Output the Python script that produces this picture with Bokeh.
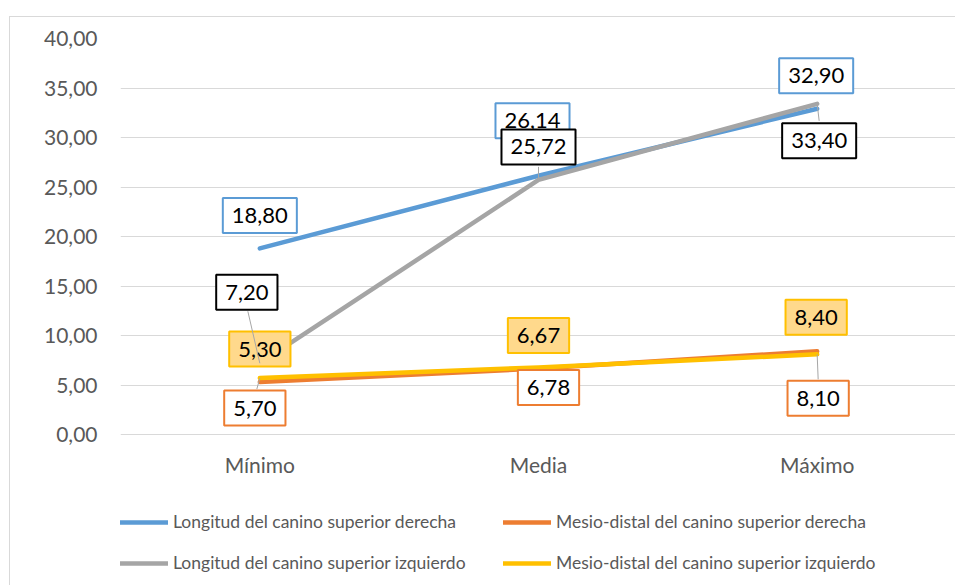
from bokeh.plotting import figure
from bokeh.models import FactorRange, Range1d, FixedTicker, Legend, LegendItem
from bokeh.core.properties import value
from bokeh.embed import file_html
from bokeh.resources import INLINE

# ---------------- data ----------------
categories = ["Mínimo", "Media", "Máximo"]
longitud_derecha = [18.80, 26.14, 32.90]
mesio_derecha = [5.30, 6.67, 8.40]
longitud_izquierdo = [7.20, 25.72, 33.40]
mesio_izquierdo = [5.70, 6.78, 8.10]
series_names = [
    "Longitud del canino superior derecha",
    "Mesio-distal del canino superior derecha",
    "Longitud del canino superior izquierdo",
    "Mesio-distal del canino superior izquierdo",
]
y_ticks = [0, 5, 10, 15, 20, 25, 30, 35, 40]
y_tick_labels = ["0,00", "5,00", "10,00", "15,00", "20,00", "25,00", "30,00", "35,00", "40,00"]


def fmt(v):
    return f"{v:.2f}".replace(".", ",")


# ---------------- styles ----------------
BLUE, ORANGE, GRAY, YELLOW = "#5B9BD5", "#ED7D31", "#A5A5A5", "#FFC000"
FONT = value("Lato")
FRAME_W = 836
PX_X = FRAME_W / len(categories)
PX_Y = 9.9

p = figure(
    x_range=FactorRange(*categories, range_padding=0),
    y_range=Range1d(-15.35, 40),
    width=946, height=569,
    min_border_left=110, min_border_right=0, min_border_top=21, min_border_bottom=0,
    output_backend="svg", toolbar_location=None,
)
p.styles = {
    "margin-left": "9px", "margin-top": "16px",
    "border-left": "1px solid #D9D9D9", "border-top": "1px solid #D9D9D9",
}
p.outline_line_color = None
p.background_fill_color = "white"
p.border_fill_color = "white"

p.xaxis.fixed_location = 0
p.xgrid.grid_line_color = None
p.ygrid.grid_line_color = "#D9D9D9"
p.ygrid.grid_line_width = 1
p.ygrid.ticker = FixedTicker(ticks=y_ticks)
p.yaxis.ticker = FixedTicker(ticks=y_ticks)
p.yaxis.major_label_overrides = {t: l for t, l in zip(y_ticks, y_tick_labels)}
for ax in (p.xaxis[0], p.yaxis[0]):
    ax.axis_line_color = None
    ax.major_tick_line_color = None
    ax.minor_tick_line_color = None
    ax.major_label_text_font = "Lato"
    ax.major_label_text_font_size = "21px"
    ax.major_label_text_color = "#595959"
p.yaxis.major_label_standoff = 17
p.xaxis.major_label_standoff = 11

series = [longitud_derecha, mesio_derecha, longitud_izquierdo, mesio_izquierdo]
colors = [BLUE, ORANGE, GRAY, YELLOW]
renderers = []
for vals, col in zip(series, colors):
    r = p.line(x=categories, y=vals, line_color=col, line_width=4.5,
               line_cap="round", line_join="round")
    renderers.append(r)

# data labels (offsets in screen pixels)
label_specs = [
    # series values, box border, box fill, x offsets, y offsets
    (longitud_derecha, BLUE, "white", [0, -6, -1], [-33, -55, -33]),
    (mesio_derecha, YELLOW, "#FFD98C", [0, 0, -1], [-33, -33, -34]),
    (longitud_izquierdo, "black", "white", [-13, 0, 2], [-71, -33, 37]),
    (mesio_izquierdo, ORANGE, "white", [-5, 10, 1], [30, 20, 44]),
]
for vals, bcol, fill, dx, dy in label_specs:
    p.text(x=categories, y=vals, text=[fmt(v) for v in vals],
           x_offset=dx, y_offset=dy,
           text_align="center", text_baseline="middle",
           text_font=FONT, text_font_size="22px", text_color="black",
           background_fill_color=fill, border_line_color=bcol, border_line_width=2,
           padding=dict(left=9, right=9, top=10, bottom=10))

# leader lines: (series, category index, end offset px)
leaders = [
    (longitud_izquierdo, 0, -12, -52),
    (longitud_izquierdo, 1, 0, -13),
    (longitud_izquierdo, 2, 2, 17),
    (mesio_izquierdo, 0, -3, 11),
    (mesio_izquierdo, 2, 1, 25),
]
x0 = [i + 0.5 for _, i, _, _ in leaders]
y0 = [s[i] for s, i, _, _ in leaders]
x1 = [i + 0.5 + dx / PX_X for _, i, dx, _ in leaders]
y1 = [s[i] - dy / PX_Y for s, i, _, dy in leaders]
p.segment(x0=x0, y0=y0, x1=x1, y1=y1, line_color="#A6A6A6", line_width=1)

legend = Legend(
    items=[LegendItem(label=n, renderers=[r]) for n, r in zip(series_names, renderers)],
    orientation="horizontal", ncols=2,
    location=(0, 13),
    glyph_width=48, glyph_height=20, label_height=20, label_width=310,
    label_standoff=5, spacing=20, padding=0, margin=0,
    border_line_color=None, background_fill_alpha=0,
    label_text_font="Lato", label_text_font_size="17.5px", label_text_color="#595959",
)
p.add_layout(legend, "center")

open("out.html", "w").write(file_html(p, INLINE))
